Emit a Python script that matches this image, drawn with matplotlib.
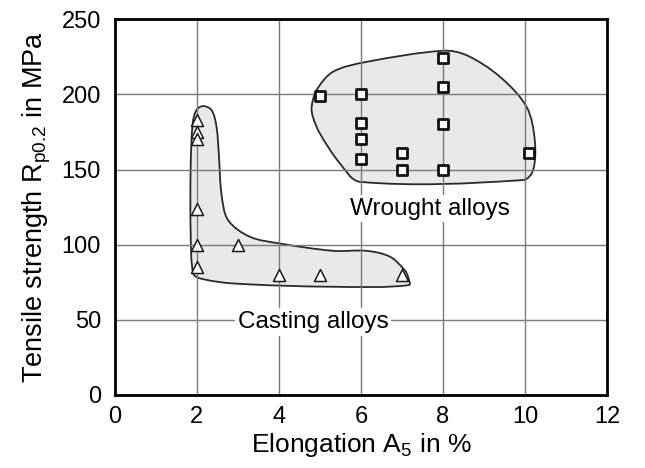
import matplotlib.pyplot as plt
import numpy as np
from matplotlib.path import Path
from matplotlib.patches import PathPatch

plt.rcParams['font.family'] = ['Liberation Sans', 'DejaVu Sans']

# Casting alloys (triangles)
cast_elong = [2, 2, 2, 2, 2, 2, 3, 4, 5, 7]
cast_rp02 = [183, 175, 170, 124, 100, 85, 100, 80, 80, 80]

# Wrought alloys (squares)
wrought_elong = [5, 6, 6, 6, 6, 7, 7, 8, 8, 8, 8, 10.1]
wrought_rp02 = [199, 200, 181, 170, 157, 161, 150, 224, 205, 180, 150, 161]

# hand-traced outlines around each group
cast_outline = [(2.15, 192.2), (2.36, 189.5), (2.48, 178.4), (2.54, 158.4), (2.60, 134),
                (2.76, 116.4), (3.29, 105.3), (4.02, 100.8), (5.33, 95.9), (6.14, 95.9),
                (6.71, 92), (7.07, 83), (7.15, 78.6), (7.17, 73.1), (5.33, 72),
                (2.89, 74.2), (2.07, 77.6), (1.91, 80.9), (1.85, 107.5), (1.85, 151.8),
                (1.90, 180.7), (1.99, 189.5)]
wrought_outline = [(4.80, 191.7), (4.92, 202.8), (5.32, 215), (6.14, 221.6), (8.0, 229),
                   (8.58, 226), (9.39, 211.7), (10.04, 191.7), (10.24, 169.5), (10.2, 149.6),
                   (9.96, 143), (5.98, 141.8), (5.49, 154), (5.0, 174), (4.83, 185)]

# rough screen scale so the smoothing treats x and y alike
SCALE = np.array([41.0, 1.5])


def smooth_closed(pts):
    # closed curve through the points, tangents weighted by chord length
    p = np.asarray(pts, float)
    q = p * SCALE
    n = len(p)
    d = np.linalg.norm(np.roll(q, -1, axis=0) - q, axis=1)  # d[i] = |q[i+1]-q[i]|
    tang = np.array([(q[(i + 1) % n] - q[i - 1]) / (d[i - 1] + d[i]) for i in range(n)])
    verts = [q[0]]
    codes = [Path.MOVETO]
    for i in range(n):
        j = (i + 1) % n
        verts += [q[i] + tang[i] * d[i] / 3, q[j] - tang[j] * d[i] / 3, q[j]]
        codes += [Path.CURVE4] * 3
    return Path(np.array(verts) / SCALE, codes)


fig, ax = plt.subplots(figsize=(6.45, 4.68), dpi=100)
fig.subplots_adjust(left=0.178, right=0.941, top=0.959, bottom=0.156)

for outline in (cast_outline, wrought_outline):
    ax.add_patch(PathPatch(smooth_closed(outline), facecolor='#e8e9e9',
                           edgecolor='#2a2a2a', lw=1.3, zorder=1))

ax.grid(True, color='#7a7a7a', lw=1.0)
ax.set_axisbelow(False)
for line in ax.get_xgridlines() + ax.get_ygridlines():
    line.set_zorder(2)

ax.scatter(cast_elong, cast_rp02, marker='^', s=75, facecolors='white',
           edgecolors='#1a1a1a', linewidths=1.1, zorder=4)
ax.scatter(wrought_elong, wrought_rp02, marker='s', s=55, facecolors='white',
           edgecolors='#111111', linewidths=2.0, zorder=4)

ax.text(7.68, 124, 'Wrought alloys', fontsize=17.5, ha='center', va='center',
        zorder=3, bbox=dict(facecolor='white', edgecolor='none', pad=2))
ax.text(4.83, 48.5, 'Casting alloys', fontsize=17.5, ha='center', va='center',
        zorder=3, bbox=dict(facecolor='white', edgecolor='none', pad=2))

ax.set_xlim(0, 12)
ax.set_ylim(0, 250)
ax.set_xticks(np.arange(0, 13, 2))
ax.set_yticks(np.arange(0, 251, 50))
ax.tick_params(length=0, labelsize=17)
ax.tick_params(axis='x', pad=8)
ax.tick_params(axis='y', pad=10)
for s in ax.spines.values():
    s.set_linewidth(2.0)
    s.set_zorder(5)

ax.set_xlabel(r'Elongation A$_\mathregular{5}$ in %', fontsize=19, labelpad=2)
ax.set_ylabel(r'Tensile strength R$_\mathregular{p0.2}$ in MPa', fontsize=19.5, labelpad=6)

fig.savefig('out.png', dpi=100)
